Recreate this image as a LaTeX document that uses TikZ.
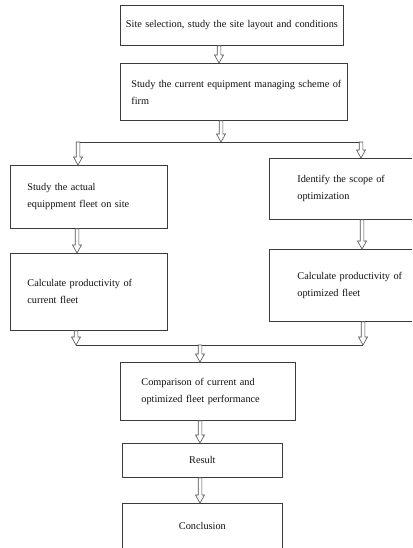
\documentclass[tikz,border=0pt]{standalone}
\usepackage{fontspec}
\setmainfont{Liberation Serif}
\usetikzlibrary{calc}
\definecolor{boxcol}{HTML}{3C3C3C}
\definecolor{arrcol}{HTML}{505050}
\definecolor{txtcol}{HTML}{111111}
\newcommand\harrow[3]{%
  \path let \p1=(#2), \p2=(#3) in
    [draw=arrcol, fill=white, line width=0.6pt, line join=miter]
    ({#1pt-1.8pt},\y1) -- ({#1pt+1.8pt},\y1) -- ({#1pt+1.8pt},\y2+8pt) --
    ({#1pt+4.5pt},\y2+8pt) -- ({#1pt},\y2) -- ({#1pt-4.5pt},\y2+8pt) --
    ({#1pt-1.8pt},\y2+8pt) -- cycle;}
\tikzset{
  box/.style={draw=boxcol, line width=0.8pt, fill=white, anchor=north west,
    inner ysep=0pt, text=txtcol, font=\fontsize{10.3}{17}\selectfont},
  conn/.style={draw=boxcol, line width=0.8pt}
}
\begin{document}
\begin{tikzpicture}[x=1pt,y=-1pt]
\useasboundingbox (0,0) rectangle (412,548);
\clip (0,0) rectangle (412,548);
\fill[white] (0,0) rectangle (412,548);
% boxes
\node[box, minimum width=223pt, minimum height=40pt, inner xsep=4pt, text width=215pt, align=center]
  (b1) at (120,5) {Site selection, study the site layout and conditions};
\node[box, minimum width=227pt, minimum height=57pt, inner xsep=11pt, text width=205pt, align=left]
  (b2) at (120,63) {\mbox{Study the current equipment managing scheme of}\\firm};
\node[box, minimum width=157pt, minimum height=63pt, inner xsep=17pt, text width=123pt, align=left]
  (l1) at (10,165) {Study the actual\\equippment fleet on site};
\node[box, minimum width=171pt, minimum height=61pt, inner xsep=28pt, text width=115pt, align=left]
  (r1) at (269,158) {Identify the scope of\\optimization};
\node[box, minimum width=157pt, minimum height=77pt, inner xsep=17pt, text width=123pt, align=left]
  (l2) at (10,253) {Calculate productivity of\\current fleet};
\node[box, minimum width=171pt, minimum height=72pt, inner xsep=28pt, text width=115pt, align=left]
  (r2) at (269,249) {Calculate productivity of\\optimized fleet};
\node[box, minimum width=175pt, minimum height=58pt, inner xsep=21pt, text width=133pt, align=left]
  (cmp) at (120,362) {Comparison of current and\\optimized fleet performance};
\node[box, minimum width=160pt, minimum height=34pt, inner xsep=4pt, text width=152pt, align=center]
  (res) at (122,443) {Result};
\node[box, minimum width=160pt, minimum height=46pt, inner xsep=4pt, text width=152pt, align=center]
  (con) at (122,503) {Conclusion};
% junctions
\coordinate (j1l) at (78,142);
\coordinate (j1m) at (221,142);
\coordinate (j1r) at (361,142);
\coordinate (j2l) at (76,345);
\coordinate (j2m) at (200,345);
\coordinate (j2r) at (363,345);
\draw[conn] (j1l) -- (j1r);
\draw[conn] (j2l) -- (j2r);
% arrows
\harrow{219}{b1.south}{b2.north}
\harrow{221}{b2.south}{j1m}
\harrow{78}{j1l}{l1.north}
\harrow{361}{j1r}{r1.north}
\harrow{77}{l1.south}{l2.north}
\harrow{362}{r1.south}{r2.north}
\harrow{76}{l2.south}{j2l}
\harrow{363}{r2.south}{j2r}
\harrow{200}{j2m}{cmp.north}
\harrow{200}{cmp.south}{res.north}
\harrow{200}{res.south}{con.north}
\end{tikzpicture}
\end{document}
